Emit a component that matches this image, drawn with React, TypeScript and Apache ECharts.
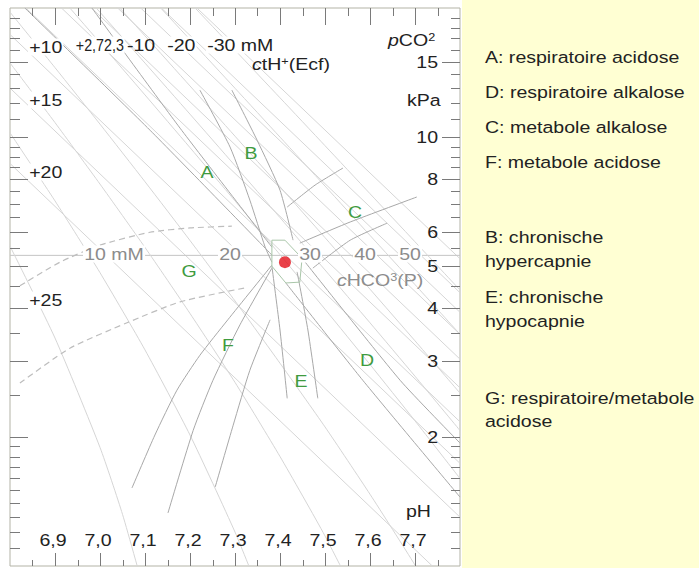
import React, { useEffect, useRef } from 'react';
import * as echarts from 'echarts';

// ---------- axes ----------
const PH_MIN = 6.8;
const PH_MAX = 7.8;
const P_MIN = 1;
const P_MAX = 20;

const phMajorTicks = [6.9, 7.0, 7.1, 7.2, 7.3, 7.4, 7.5, 7.6, 7.7];
const phLabels = ['6,9', '7,0', '7,1', '7,2', '7,3', '7,4', '7,5', '7,6', '7,7'];
const phMinorTicks = [6.85, 6.95, 7.05, 7.15, 7.25, 7.35, 7.45, 7.55, 7.65, 7.75];

const pco2MajorTicks = [2, 3, 4, 5, 6, 8, 10, 15];
const pco2Labels = ['2', '3', '4', '5', '6', '8', '10', '15'];
const pco2MinorTicks = [1.1, 1.2, 1.3, 1.4, 1.5, 1.6, 1.7, 1.8, 1.9, 2.5, 3.5, 4.5, 5.5, 6.5, 7, 7.5, 8.5, 9, 9.5, 11, 12, 13, 14, 16, 17, 18, 19];

// ---------- cHCO3(P) isopleths (pH, pCO2 kPa) ----------
const hco3_10 = [[6.8, 8.68], [7.8, 0.868]];
const hco3_15 = [[6.8, 13.01], [7.8, 1.3]];
const hco3_20 = [[6.8, 17.35], [7.8, 1.735]];
const hco3_25 = [[6.8, 21.69], [7.8, 2.169]];
const hco3_30 = [[6.8, 26.03], [7.8, 2.603]];
const hco3_35 = [[6.8, 30.36], [7.8, 3.036]];
const hco3_40 = [[6.8, 34.7], [7.8, 3.47]];
const hco3_45 = [[6.8, 39.04], [7.8, 3.904]];
const hco3_50 = [[6.8, 43.38], [7.8, 4.338]];
const hco3_60 = [[6.8, 52.05], [7.8, 5.205]];
const hco3Reference = [[6.8, 5.3], [7.8, 5.3]];

// ---------- ctH+(Ecf) lines ----------
const ctH_p25 = [[6.8, 5.57], [6.9, 3.4], [7.0, 1.89], [7.05, 1.32], [7.1, 0.86]];
const ctH_p20 = [[6.8, 10.23], [6.9, 7.1], [7.0, 4.83], [7.1, 3.19], [7.2, 2.02], [7.3, 1.2], [7.35, 0.89]];
const ctH_p15 = [[6.8, 14.89], [6.9, 10.81], [7.0, 7.77], [7.1, 5.53], [7.2, 3.88], [7.3, 2.68], [7.4, 1.8], [7.5, 1.175], [7.6, 0.73]];
const ctH_p10 = [[6.8, 19.56], [6.9, 14.52], [7.0, 10.72], [7.1, 7.87], [7.2, 5.74], [7.3, 4.15], [7.4, 2.97], [7.5, 2.11], [7.6, 1.47], [7.7, 1.005], [7.8, 0.67]];
const ctH_0 = [[6.8, 28.89], [6.9, 21.92], [7.0, 16.6], [7.1, 12.54], [7.2, 9.45], [7.3, 7.1], [7.4, 5.32], [7.5, 3.97], [7.6, 2.95], [7.7, 2.18], [7.8, 1.6]];
const ctH_m5 = [[6.8, 33.55], [6.9, 25.63], [7.0, 19.55], [7.1, 14.88], [7.2, 11.31], [7.3, 8.58], [7.4, 6.49], [7.5, 4.9], [7.6, 3.69], [7.7, 2.77], [7.8, 2.07]];
const ctH_m10 = [[6.9, 29.33], [7.0, 22.49], [7.1, 17.22], [7.2, 13.16], [7.3, 10.05], [7.4, 7.66], [7.5, 5.83], [7.6, 4.42], [7.7, 3.35], [7.8, 2.53]];
const ctH_m20 = [[7.0, 28.38], [7.1, 21.9], [7.2, 16.88], [7.3, 13.0], [7.4, 10.0], [7.5, 7.69], [7.6, 5.9], [7.7, 4.53], [7.8, 3.47]];
const ctH_m30 = [[7.1, 26.57], [7.2, 20.59], [7.3, 15.95], [7.4, 12.35], [7.5, 9.55], [7.6, 7.38], [7.7, 5.7], [7.8, 4.4]];

// ---------- zone boundaries ----------
const zoneA_right = [[6.982, 20.0], [7.178, 10.49], [7.382, 5.54]];
const zoneA_left = [[6.833, 20.0], [7.111, 10.38], [7.382, 5.31]];
const zoneB_left = [[7.222, 12.87], [7.289, 9.48], [7.333, 7.13], [7.367, 5.54], [7.382, 5.11]];
const zoneB_right = [[7.293, 12.87], [7.349, 9.84], [7.4, 7.52], [7.429, 5.75]];
const zoneC_upper = [[7.416, 6.87], [7.478, 7.73], [7.54, 8.47]];
const zoneC_middle = [[7.444, 5.66], [7.556, 6.34], [7.704, 7.25]];
const zoneC_lower = [[7.473, 4.95], [7.556, 5.75], [7.638, 6.3]];
const zoneD_upper = [[7.449, 5.22], [7.667, 2.71], [7.8, 1.935]];
const zoneD_lower = [[7.413, 4.57], [7.584, 2.71], [7.8, 1.448]];
const zoneE_left = [[7.382, 5.0], [7.4, 3.55], [7.416, 2.46]];
const zoneE_right = [[7.438, 4.85], [7.462, 3.55], [7.484, 2.46]];
const zoneF_1 = [[7.382, 5.03], [7.284, 3.75], [7.222, 3.1], [7.171, 2.57], [7.122, 2.02], [7.071, 1.52]];
const zoneF_2 = [[7.382, 4.95], [7.311, 3.65], [7.251, 2.71], [7.207, 2.07], [7.151, 1.329]];
const zoneF_3 = [[7.378, 3.75], [7.333, 2.86], [7.296, 2.13], [7.256, 1.528]];
const zoneG_upper = [[6.822, 4.5], [6.911, 5.11], [7.0, 5.6], [7.111, 6.0], [7.2, 6.14], [7.293, 6.2]];
const zoneG_lower = [[6.822, 2.67], [6.933, 3.22], [7.06, 3.69], [7.178, 4.13], [7.322, 4.45]];
const normalArea = [[7.382, 5.75], [7.411, 5.75], [7.449, 5.22], [7.444, 4.59], [7.413, 4.57], [7.382, 5.0], [7.382, 5.75]];
const patient = [[7.411, 5.11]];

// ---------- legend ----------
const legendLines = [
  'A: respiratoire acidose',
  'D: respiratoire alkalose',
  'C: metabole alkalose',
  'F: metabole acidose',
  'B: chronische',
  'hypercapnie',
  'E: chronische',
  'hypocapnie',
  'G: respiratoire/metabole',
  'acidose',
];

const FONT_FAMILY = '"Liberation Sans", Arial, Helvetica, sans-serif';
const SX = 1.15;
const TICK = '#7a7a7a';
const ISO = '#d6d6d6';
const ZONE = '#a8a8a8';
const GREEN = '#3f9b3f';
const GRAY_TXT = '#8c8c8c';

function fnt(size: number, italic = false) {
  return (italic ? 'italic ' : '') + size + 'px ' + FONT_FAMILY;
}

function line(data: number[][], color: string, width = 1, dashed = false, smooth: number | boolean = 0.2) {
  return {
    type: 'line',
    data,
    symbol: 'none',
    showSymbol: false,
    silent: true,
    smooth,
    clip: true,
    lineStyle: { color, width, type: dashed ? [6, 4] : 'solid' },
    z: 2,
  };
}

function txt(text: string, x: number, y: number, extra: any = {}, sx: number = SX) {
  return {
    type: 'text',
    x,
    y,
    scaleX: sx,
    z: 100,
    style: {
      text,
      font: fnt(17),
      fill: '#222',
      textAlign: 'left',
      textVerticalAlign: 'middle',
      ...extra,
    },
  };
}

function buildOption() {
  const series: any[] = [];
  [hco3_10, hco3_15, hco3_20, hco3_25, hco3_30, hco3_35, hco3_40, hco3_45, hco3_50, hco3_60].forEach((d) =>
    series.push(line(d, ISO, 1, false, false))
  );
  series.push(line(hco3Reference, '#c4c4c4', 1, false, false));
  [ctH_p25, ctH_p20, ctH_p15, ctH_p10, ctH_0, ctH_m5, ctH_m10, ctH_m20, ctH_m30].forEach((d) =>
    series.push(line(d, ISO, 1))
  );
  [zoneA_right, zoneA_left, zoneB_left, zoneB_right, zoneC_upper, zoneC_middle, zoneC_lower, zoneD_upper, zoneD_lower,
    zoneE_left, zoneE_right, zoneF_1, zoneF_2, zoneF_3].forEach((d) => series.push(line(d, ZONE, 1)));
  series.push(line(zoneG_upper, '#bdbdbd', 1.2, true));
  series.push(line(zoneG_lower, '#bdbdbd', 1.2, true));
  series.push(line(normalArea, '#a9c6a9', 1, false, false));
  series.push({
    type: 'scatter',
    data: patient,
    symbol: 'circle',
    symbolSize: 12,
    itemStyle: { color: '#e3121b' },
    silent: true,
    z: 10,
  });

  // pH ticks (major) with labels
  series.push({
    type: 'custom',
    data: phMajorTicks.map((v) => [v, P_MIN]),
    silent: true,
    z: 5,
    renderItem: (params: any, api: any) => {
      const v = api.value(0);
      const b = api.coord([v, P_MIN]);
      const t = api.coord([v, P_MAX]);
      const x = Math.round(b[0]) + 0.5;
      return {
        type: 'group',
        children: [
          { type: 'line', shape: { x1: x, y1: b[1], x2: x, y2: b[1] - 13 }, style: { stroke: TICK, lineWidth: 1 } },
          { type: 'line', shape: { x1: x, y1: t[1], x2: x, y2: t[1] + 17 }, style: { stroke: TICK, lineWidth: 1 } },
          {
            type: 'text',
            x: b[0] - 2,
            y: b[1] - 26,
            scaleX: SX,
            style: {
              text: phLabels[params.dataIndex],
              font: fnt(17),
              fill: '#222',
              textAlign: 'center',
              textVerticalAlign: 'middle',
            },
          },
        ],
      };
    },
  });
  // pH ticks (minor)
  series.push({
    type: 'custom',
    data: phMinorTicks.map((v) => [v, P_MIN]),
    silent: true,
    z: 5,
    renderItem: (params: any, api: any) => {
      const v = api.value(0);
      const b = api.coord([v, P_MIN]);
      const t = api.coord([v, P_MAX]);
      const x = Math.round(b[0]) + 0.5;
      return {
        type: 'group',
        children: [
          { type: 'line', shape: { x1: x, y1: b[1], x2: x, y2: b[1] - 6 }, style: { stroke: TICK, lineWidth: 1 } },
          { type: 'line', shape: { x1: x, y1: t[1], x2: x, y2: t[1] + 8 }, style: { stroke: TICK, lineWidth: 1 } },
        ],
      };
    },
  });
  // pCO2 ticks (major) with labels
  series.push({
    type: 'custom',
    data: pco2MajorTicks.map((v) => [PH_MAX, v]),
    silent: true,
    z: 5,
    renderItem: (params: any, api: any) => {
      const v = api.value(1);
      const r = api.coord([PH_MAX, v]);
      const l = api.coord([PH_MIN, v]);
      const y = Math.round(r[1]) + 0.5;
      return {
        type: 'group',
        children: [
          { type: 'line', shape: { x1: r[0] - 18, y1: y, x2: r[0], y2: y }, style: { stroke: TICK, lineWidth: 1 } },
          { type: 'line', shape: { x1: l[0], y1: y, x2: l[0] + 18, y2: y }, style: { stroke: TICK, lineWidth: 1 } },
          {
            type: 'text',
            x: r[0] - 22,
            y: r[1],
            scaleX: SX,
            style: {
              text: pco2Labels[params.dataIndex],
              font: fnt(17),
              fill: '#222',
              textAlign: 'right',
              textVerticalAlign: 'middle',
            },
          },
        ],
      };
    },
  });
  // pCO2 ticks (minor)
  series.push({
    type: 'custom',
    data: pco2MinorTicks.map((v) => [PH_MAX, v]),
    silent: true,
    z: 5,
    renderItem: (params: any, api: any) => {
      const v = api.value(1);
      const r = api.coord([PH_MAX, v]);
      const l = api.coord([PH_MIN, v]);
      const y = Math.round(r[1]) + 0.5;
      return {
        type: 'group',
        children: [
          { type: 'line', shape: { x1: r[0] - 9, y1: y, x2: r[0], y2: y }, style: { stroke: TICK, lineWidth: 1 } },
          { type: 'line', shape: { x1: l[0], y1: y, x2: l[0] + 10, y2: y }, style: { stroke: TICK, lineWidth: 1 } },
        ],
      };
    },
  });

  const whiteBg = { backgroundColor: '#fff', padding: [0, 1] };
  const graphic: any[] = [
    { type: 'rect', shape: { x: 462, y: 0, width: 237, height: 568 }, style: { fill: '#ffffd3' }, z: -10, silent: true },
    // ctH+ labels
    txt('+10', 28, 47, whiteBg),
    txt('+15', 28, 100, whiteBg),
    txt('+20', 28, 172, whiteBg),
    txt('+25', 28, 300, whiteBg),
    txt('+2,72,3', 75, 45, whiteBg, 0.84),
    txt('-10', 127, 45, {}),
    txt('-20', 166, 45, whiteBg),
    txt('-30 mM', 206, 45, whiteBg),
    txt('{i|c}tH{s|+}(Ecf)', 252, 64, {
      rich: {
        i: { font: fnt(17, true), fill: '#222' },
        s: { font: fnt(11), fill: '#222', verticalAlign: 'top' },
      },
    }),
    txt('{i|p}CO{s|2}', 388, 40, {
      rich: {
        i: { font: fnt(17, true), fill: '#222' },
        s: { font: fnt(11), fill: '#222', verticalAlign: 'top' },
      },
    }),
    txt('kPa', 407, 100),
    txt('pH', 406, 511),
    // bicarbonate labels
    txt('10 mM', 83, 254, { fill: GRAY_TXT, ...whiteBg }),
    txt('20', 218, 254, { fill: GRAY_TXT, ...whiteBg }),
    txt('30', 298, 254, { fill: GRAY_TXT, ...whiteBg }),
    txt('40', 353, 254, { fill: GRAY_TXT, ...whiteBg }),
    txt('50', 398, 254, { fill: GRAY_TXT, ...whiteBg }),
    txt('{i|c}HCO{s|3}(P)', 337, 280, {
      fill: GRAY_TXT,
      rich: {
        i: { font: fnt(17, true), fill: GRAY_TXT },
        s: { font: fnt(11), fill: GRAY_TXT, verticalAlign: 'top' },
      },
    }),
    // zone letters
    txt('A', 207, 172, { fill: GREEN, textAlign: 'center' }),
    txt('B', 251, 153, { fill: GREEN, textAlign: 'center' }),
    txt('C', 355, 212, { fill: GREEN, textAlign: 'center' }),
    txt('D', 367, 360, { fill: GREEN, textAlign: 'center' }),
    txt('E', 301, 381, { fill: GREEN, textAlign: 'center' }),
    txt('F', 228, 345, { fill: GREEN, textAlign: 'center' }),
    txt('G', 189, 271, { fill: GREEN, textAlign: 'center' }),
  ];
  const legendY = [57, 92, 127, 162, 237, 261, 297, 321, 398, 421];
  legendLines.forEach((s, i) => graphic.push(txt(s, 485, legendY[i])));

  return {
    animation: false,
    backgroundColor: '#ffffff',
    grid: {
      left: 10,
      top: 8,
      width: 450,
      height: 558,
      show: true,
      borderColor: '#b3b3a6',
      borderWidth: 1,
      backgroundColor: 'transparent',
    },
    xAxis: { type: 'value', min: PH_MIN, max: PH_MAX, show: false },
    yAxis: { type: 'log', logBase: 10, min: P_MIN, max: P_MAX, show: false },
    series,
    graphic,
  };
}

export default function App() {
  const ref = useRef<HTMLDivElement>(null);
  useEffect(() => {
    if (!ref.current) return;
    const chart = echarts.init(ref.current, undefined, { renderer: 'svg' });
    chart.setOption(buildOption() as any);
    return () => chart.dispose();
  }, []);
  return (
    <div
      ref={ref}
      style={{ position: 'fixed', left: 0, top: 0, width: 699, height: 568, background: '#fff' }}
    />
  );
}
